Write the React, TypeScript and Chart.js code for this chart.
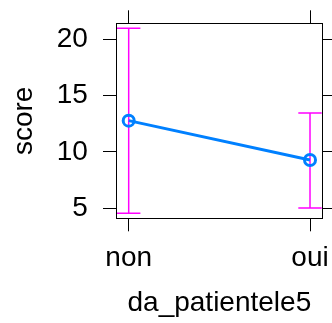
import React, { useEffect, useRef } from "react";
import { Chart, registerables } from "chart.js";

Chart.register(...registerables);

const categories = ["non", "oui"];
const categoryPositions = [1, 2];
const scoreFit = [12.78, 9.29];
const scoreLower = [4.56, 5.03];
const scoreUpper = [20.98, 13.46];
const yTickValues = [5, 10, 15, 20];
const xTitle = "da_patientele5";
const yTitle = "score";

const FONT = "'Liberation Sans', Arial, Helvetica, sans-serif";
const FS = 28;

const errorBarPlugin = {
  id: "errorBars",
  beforeDatasetsDraw(chart: any) {
    const { ctx, chartArea, scales } = chart;
    const xs = scales.x;
    const ys = scales.y;
    ctx.save();
    ctx.beginPath();
    ctx.rect(chartArea.left, chartArea.top, chartArea.right - chartArea.left, chartArea.bottom - chartArea.top);
    ctx.clip();
    ctx.strokeStyle = "#FF00FF";
    ctx.lineWidth = 1.5;
    const cap = 11.7;
    categoryPositions.forEach((pos, i) => {
      const px = xs.getPixelForValue(pos);
      const lo = ys.getPixelForValue(scoreLower[i]);
      const hi = ys.getPixelForValue(scoreUpper[i]);
      ctx.beginPath();
      ctx.moveTo(px, lo);
      ctx.lineTo(px, hi);
      ctx.moveTo(px - cap, lo);
      ctx.lineTo(px + cap, lo);
      ctx.moveTo(px - cap, hi);
      ctx.lineTo(px + cap, hi);
      ctx.stroke();
    });
    ctx.restore();
  },
};

function fixSize(dim: "width" | "height", v: number) {
  return (scale: any) => {
    scale[dim] = v;
    scale.paddingLeft = 0;
    scale.paddingRight = 0;
    scale.paddingTop = 0;
    scale.paddingBottom = 0;
  };
}

const gridOpts = {
  drawOnChartArea: false,
  drawTicks: true,
  tickLength: 13,
  color: "#000000",
  lineWidth: 1,
};
const borderOpts = { display: true, color: "#000000", width: 1 };

export default function App() {
  const ref = useRef<HTMLCanvasElement | null>(null);
  useEffect(() => {
    if (!ref.current) return;
    const xTicks = () => (scale: any) => {
      scale.ticks = categoryPositions.map((v) => ({ value: v }));
    };
    const chart = new Chart(ref.current, {
      type: "line",
      data: {
        datasets: [
          {
            data: categoryPositions.map((p, i) => ({ x: p, y: scoreFit[i] })),
            borderColor: "#0080FF",
            borderWidth: 3,
            pointRadius: 5.5,
            pointBorderWidth: 3,
            pointBorderColor: "#0080FF",
            pointBackgroundColor: "rgba(0,0,0,0)",
            fill: false,
            tension: 0,
            xAxisID: "x",
            yAxisID: "y",
          },
        ],
      },
      options: {
        responsive: false,
        animation: false,
        events: [],
        layout: { padding: 0 },
        plugins: { legend: { display: false }, tooltip: { enabled: false }, title: { display: false } },
        scales: {
          x: {
            type: "linear",
            position: "bottom",
            min: 0.93,
            max: 2.07,
            afterBuildTicks: xTicks(),
            afterFit: fixSize("height", 104.7),
            grid: gridOpts,
            border: borderOpts,
            ticks: {
              color: "#000000",
              padding: 9.8,
              maxRotation: 0,
              autoSkip: false,
              font: { family: FONT, size: FS },
              callback: (_v: any, i: number) => categories[i],
            },
            title: {
              display: true,
              text: xTitle,
              color: "#000000",
              font: { family: FONT, size: FS },
              padding: { top: 0, bottom: 3 },
            },
          },
          x2: {
            type: "linear",
            position: "top",
            min: 0.93,
            max: 2.07,
            afterBuildTicks: xTicks(),
            afterFit: fixSize("height", 23.3),
            grid: gridOpts,
            border: borderOpts,
            ticks: { display: false },
          },
          y: {
            type: "linear",
            position: "left",
            min: 4.11,
            max: 21.42,
            afterBuildTicks: (scale: any) => {
              scale.ticks = yTickValues.map((v) => ({ value: v }));
            },
            afterFit: fixSize("width", 116),
            grid: gridOpts,
            border: borderOpts,
            ticks: {
              color: "#000000",
              padding: 15.2,
              font: { family: FONT, size: FS },
            },
            title: {
              display: true,
              text: yTitle,
              color: "#000000",
              font: { family: FONT, size: FS },
              padding: { top: 7.2, bottom: 0 },
            },
          },
          y2: {
            type: "linear",
            position: "right",
            min: 4.11,
            max: 21.42,
            afterBuildTicks: (scale: any) => {
              scale.ticks = yTickValues.map((v) => ({ value: v }));
            },
            afterFit: fixSize("width", 9.3),
            grid: gridOpts,
            border: borderOpts,
            ticks: { display: false },
          },
        },
      },
      plugins: [errorBarPlugin],
    } as any);
    return () => chart.destroy();
  }, []);
  return (
    <div style={{ position: "fixed", left: 0, top: 0, width: 332, height: 323, background: "#ffffff" }}>
      <canvas ref={ref} width={332} height={323} style={{ display: "block", width: 332, height: 323 }} />
    </div>
  );
}
